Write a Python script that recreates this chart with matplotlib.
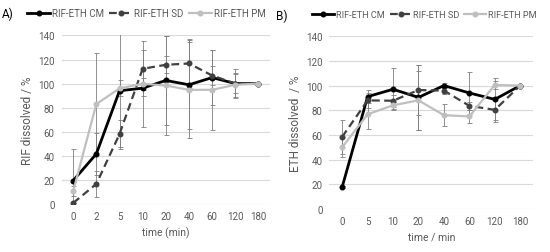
import matplotlib.pyplot as plt
import numpy as np

plt.rcParams['font.family'] = ['Roboto', 'DejaVu Sans']

# panel A - RIF
times_a = ['0', '2', '5', '10', '20', '40', '60', '120', '180']
rif_cm = [19.4, 41.6, 94, 96.2, 102.6, 99, 105, 100, 100]
rif_sd = [0.8, 16.6, 58, 112.3, 115.6, 116.7, 106.7, 100, 100]
rif_pm = [10.5, 83, 96, 99.8, 98.4, 94.8, 94.8, 99, 100]
rif_cm_err = [26, 17.5, 47, 32, 37, 37, 23, 12, 0]
rif_sd_err = [0, 10.5, 12, 23, 7, 20, 8, 8, 0]
rif_pm_err = [4, 42, 6.6, 5, 41, 40, 33, 10, 0]

# panel B - ETH
times_b = ['0', '5', '10', '20', '40', '60', '120', '180']
eth_cm = [17.8, 91, 97, 90.4, 100, 94, 88.8, 100]
eth_sd = [58.4, 88, 87.7, 96.4, 95.9, 83.6, 80.3, 100]
eth_pm = [50, 76.7, 84, 88, 76, 75, 100.5, 100]
eth_cm_err = [1, 5, 17, 26, 2, 17, 17, 0]
eth_sd_err = [14, 6, 5, 20, 3, 3, 10, 0]
eth_pm_err = [8, 12, 3, 24, 9, 5, 3, 0]

labels = ['RIF-ETH CM', 'RIF-ETH SD', 'RIF-ETH PM']
colors = ['#000000', '#404040', '#BFBFBF']
styles = ['-', (0, (3.5, 2)), '-']
widths = [2.0, 1.6, 1.6]
grey = '#595959'

fig = plt.figure(figsize=(5.5, 2.53), dpi=100)
axA = fig.add_axes([0.112, 0.190, 0.379, 0.666])
axB = fig.add_axes([0.599, 0.170, 0.370, 0.683])


def draw(ax, cats, series, errs, ylabel, xlabel):
    x = np.arange(len(cats))
    handles = []
    for y, e, c, ls, lw, lab in zip(series, errs, colors, styles, widths, labels):
        ax.errorbar(x, y, yerr=e, fmt='none', ecolor='#7F7F7F', elinewidth=0.6,
                    capsize=1.8, capthick=0.6, zorder=2)
        h, = ax.plot(x, y, ls=ls, color=c, lw=lw, marker='o', ms=3.3,
                     label=lab, zorder=3)
        handles.append(h)
    ax.set_xlim(-0.5, len(cats) - 0.5)
    ax.set_ylim(0, 140)
    ax.set_yticks(range(0, 141, 20))
    ax.set_xticks(x)
    ax.set_xticklabels(cats)
    ax.grid(axis='y', color='#D9D9D9', lw=0.8)
    ax.set_axisbelow(True)
    for s in ax.spines.values():
        s.set_visible(False)
    ax.tick_params(length=0, labelsize=7, colors=grey, pad=5)
    ax.set_ylabel(ylabel, fontsize=8.5, color=grey, labelpad=3)
    ax.set_xlabel(xlabel, fontsize=7.5, color=grey, labelpad=4)
    return handles


hA = draw(axA, times_a, [rif_cm, rif_sd, rif_pm],
          [rif_cm_err, rif_sd_err, rif_pm_err], 'RIF dissolved / %', 'time (min)')
hB = draw(axB, times_b, [eth_cm, eth_sd, eth_pm],
          [eth_cm_err, eth_sd_err, eth_pm_err], 'ETH dissolved  / %', 'time / min')

for h, cx, cy, fs in [(hA, 0.266, 0.945, 7), (hB, 0.772, 0.937, 6.6)]:
    leg = fig.legend(handles=h, loc='center', bbox_to_anchor=(cx, cy), ncol=3,
                     frameon=False, fontsize=fs, handlelength=2.4,
                     columnspacing=0.5, handletextpad=0.2, borderaxespad=0,
                     borderpad=0)
    for t in leg.get_texts():
        t.set_color(grey)

fig.text(0.003, 0.945, 'A)', fontsize=8.5, va='center')
fig.text(0.502, 0.937, 'B)', fontsize=8.5, va='center')

fig.savefig('out.png')
